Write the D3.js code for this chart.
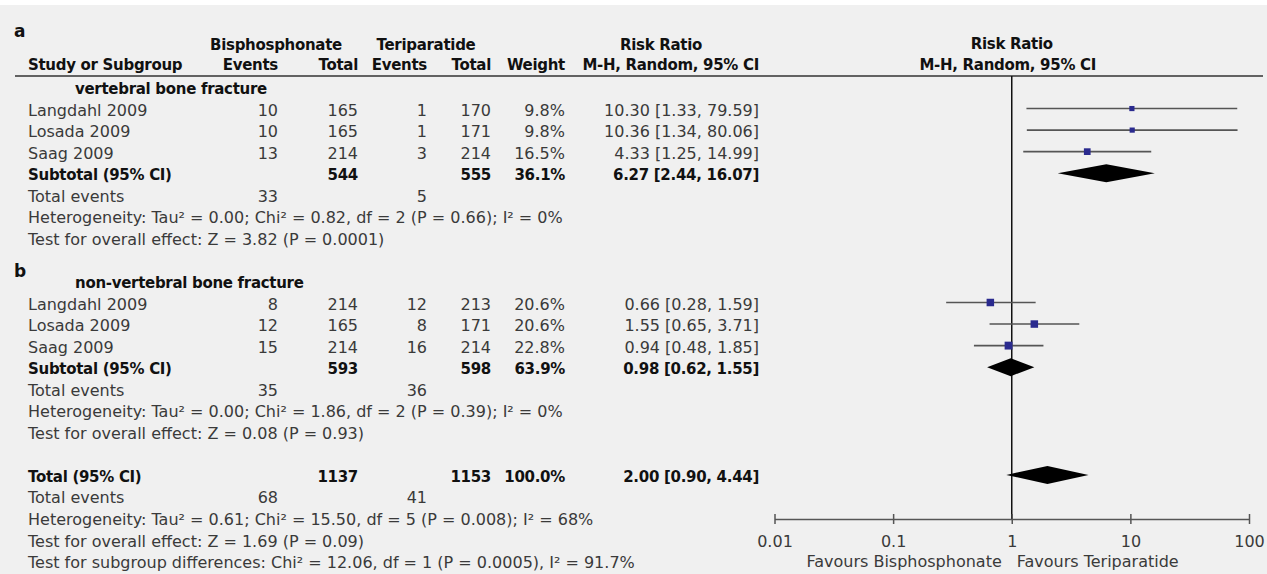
<!DOCTYPE html>
<html><head><meta charset="utf-8">
<script src="https://cdn.jsdelivr.net/npm/d3@7"></script>
<style>body{margin:0;background:#fff}</style>
</head><body><svg id="c" width="1267" height="574"></svg>
<script>
// ---- data ----
const studies = ["Langdahl 2009","Losada 2009","Saag 2009","Langdahl 2009","Losada 2009","Saag 2009"];
const studyGroup = [0,0,0,1,1,1];
const bisEvents = [10,10,13,8,12,15];
const bisTotal = [165,165,214,214,165,214];
const terEvents = [1,1,3,12,8,16];
const terTotal = [170,171,214,213,171,214];
const weights = [9.8,9.8,16.5,20.6,20.6,22.8];
const rr = [10.30,10.36,4.33,0.66,1.55,0.94];
const rrLow = [1.33,1.34,1.25,0.28,0.65,0.48];
const rrHigh = [79.59,80.06,14.99,1.59,3.71,1.85];

const panelLabels = ["a","b"];
const subgroupNames = ["vertebral bone fracture","non-vertebral bone fracture"];
const subBisEvents = [33,35];
const subTerEvents = [5,36];
const subBisTotal = [544,593];
const subTerTotal = [555,598];
const subWeight = [36.1,63.9];
const subRR = [6.27,0.98];
const subLow = [2.44,0.62];
const subHigh = [16.07,1.55];
const subHet = ["Heterogeneity: Tau\u00b2 = 0.00; Chi\u00b2 = 0.82, df = 2 (P = 0.66); I\u00b2 = 0%",
                "Heterogeneity: Tau\u00b2 = 0.00; Chi\u00b2 = 1.86, df = 2 (P = 0.39); I\u00b2 = 0%"];
const subTest = ["Test for overall effect: Z = 3.82 (P = 0.0001)",
                 "Test for overall effect: Z = 0.08 (P = 0.93)"];

const totBisEvents = 68, totTerEvents = 41;
const totBisTotal = 1137, totTerTotal = 1153, totWeight = 100.0;
const totRR = 2.00, totLow = 0.90, totHigh = 4.44;
const totHet = "Heterogeneity: Tau\u00b2 = 0.61; Chi\u00b2 = 15.50, df = 5 (P = 0.008); I\u00b2 = 68%";
const totTest = "Test for overall effect: Z = 1.69 (P = 0.09)";
const subDiff = "Test for subgroup differences: Chi\u00b2 = 12.06, df = 1 (P = 0.0005), I\u00b2 = 91.7%";

const tickValues = [0.01,0.1,1,10,100];
const tickLabels = ["0.01","0.1","1","10","100"];
const favourLeft = "Favours Bisphosphonate";
const favourRight = "Favours Teriparatide";

// ---- layout ----
const W = 1267, H = 574;
const svg = d3.select("#c");
svg.append("rect").attr("x",0).attr("y",5).attr("width",W).attr("height",H-5).attr("fill","#f0f0f0");
const FN = "'DejaVu Sans', sans-serif";
const NS = 16, BS = 15;
const x = d3.scaleLog().domain([0.01,100]).range([774.5,1249]);
const row = d3.scaleLinear().domain([0,22]).range([87,561.1]);
const OFF = 7;
const col = {name:28, be:278, bt:358, te:427, tt:491, w:565, ci:759};
const size = d3.scaleSqrt().domain([0,100]).range([0,16.5]);

function txt(xp, yp, s, o = {}) {
  return svg.append("text").attr("x", xp).attr("y", yp)
    .attr("font-family", FN)
    .attr("font-size", o.size || (o.bold ? BS : NS))
    .attr("font-weight", o.bold ? "bold" : "normal")
    .attr("letter-spacing", o.bold && !o.size ? -0.3 : 0)
    .attr("fill", o.bold ? "#111" : "#3a3a3a")
    .attr("text-anchor", o.anchor || "start")
    .text(s);
}
const ciStr = (m,l,h) => `${m.toFixed(2)} [${l.toFixed(2)}, ${h.toFixed(2)}]`;

// header
txt(14, 37, panelLabels[0], {bold:true, size:17});
txt(276, 50, "Bisphosphonate", {bold:true, anchor:"middle"});
txt(426, 50, "Teriparatide", {bold:true, anchor:"middle"});
txt(661, 50, "Risk Ratio", {bold:true, anchor:"middle"});
txt(x(1), 49, "Risk Ratio", {bold:true, anchor:"middle"});
txt(col.name, 70, "Study or Subgroup", {bold:true});
txt(col.be, 70, "Events", {bold:true, anchor:"end"});
txt(col.bt, 70, "Total", {bold:true, anchor:"end"});
txt(col.te, 70, "Events", {bold:true, anchor:"end"});
txt(col.tt, 70, "Total", {bold:true, anchor:"end"});
txt(col.w, 70, "Weight", {bold:true, anchor:"end"});
txt(col.ci, 70, "M-H, Random, 95% CI", {bold:true, anchor:"end"});
txt(x(1)-4, 70, "M-H, Random, 95% CI", {bold:true, anchor:"middle"});
svg.append("line").attr("x1",15).attr("x2",1263).attr("y1",76).attr("y2",76)
  .attr("stroke","#333").attr("stroke-width",1.5);

// vertical line of no effect
svg.append("line").attr("x1",x(1)).attr("x2",x(1)).attr("y1",76).attr("y2",519)
  .attr("stroke","#111").attr("stroke-width",1.5);

function diamond(m,l,h,yc) {
  svg.append("path")
    .attr("d", `M${x(l)},${yc}L${x(m)},${yc-9}L${x(h)},${yc}L${x(m)},${yc+9}Z`)
    .attr("fill","#000");
}

[0,1].forEach(g => {
  const base = g === 0 ? 0 : 9;
  if (g === 1) txt(14, 277, panelLabels[1], {bold:true, size:17});
  txt(75, row(base)+OFF, subgroupNames[g], {bold:true});
  const idx = studies.map((s,i)=>i).filter(i => studyGroup[i] === g);
  idx.forEach((i,k) => {
    const yc = row(base+1+k), yb = yc + OFF;
    txt(col.name, yb, studies[i]);
    txt(col.be, yb, bisEvents[i], {anchor:"end"});
    txt(col.bt, yb, bisTotal[i], {anchor:"end"});
    txt(col.te, yb, terEvents[i], {anchor:"end"});
    txt(col.tt, yb, terTotal[i], {anchor:"end"});
    txt(col.w, yb, weights[i].toFixed(1)+"%", {anchor:"end"});
    txt(col.ci, yb, ciStr(rr[i], rrLow[i], rrHigh[i]), {anchor:"end"});
    svg.append("line").attr("x1",x(rrLow[i])).attr("x2",x(rrHigh[i]))
      .attr("y1",yc).attr("y2",yc).attr("stroke","#555").attr("stroke-width",1.6);
    const s = size(weights[i]);
    svg.append("rect").attr("x",x(rr[i])-s/2).attr("y",yc-s/2)
      .attr("width",s).attr("height",s).attr("fill","#2a2a8e");
  });
  const ys = row(base+4);
  txt(col.name, ys+OFF, "Subtotal (95% CI)", {bold:true});
  txt(col.bt, ys+OFF, subBisTotal[g], {bold:true, anchor:"end"});
  txt(col.tt, ys+OFF, subTerTotal[g], {bold:true, anchor:"end"});
  txt(col.w, ys+OFF, subWeight[g].toFixed(1)+"%", {bold:true, anchor:"end"});
  txt(col.ci, ys+OFF, ciStr(subRR[g], subLow[g], subHigh[g]), {bold:true, anchor:"end"});
  diamond(subRR[g], subLow[g], subHigh[g], ys);
  txt(col.name, row(base+5)+OFF, "Total events");
  txt(col.be, row(base+5)+OFF, subBisEvents[g], {anchor:"end"});
  txt(col.te, row(base+5)+OFF, subTerEvents[g], {anchor:"end"});
  txt(col.name, row(base+6)+OFF, subHet[g]);
  txt(col.name, row(base+7)+OFF, subTest[g]);
});

// overall
const yt = row(18);
txt(col.name, yt+OFF, "Total (95% CI)", {bold:true});
txt(col.bt, yt+OFF, totBisTotal, {bold:true, anchor:"end"});
txt(col.tt, yt+OFF, totTerTotal, {bold:true, anchor:"end"});
txt(col.w, yt+OFF, totWeight.toFixed(1)+"%", {bold:true, anchor:"end"});
txt(col.ci, yt+OFF, ciStr(totRR, totLow, totHigh), {bold:true, anchor:"end"});
diamond(totRR, totLow, totHigh, yt);
txt(col.name, row(19)+OFF, "Total events");
txt(col.be, row(19)+OFF, totBisEvents, {anchor:"end"});
txt(col.te, row(19)+OFF, totTerEvents, {anchor:"end"});
txt(col.name, row(20)+OFF, totHet);
txt(col.name, row(21)+OFF, totTest);
txt(col.name, row(22)+OFF, subDiff);

// axis
const axis = d3.axisBottom(x).tickValues(tickValues)
  .tickFormat((d,i) => tickLabels[i]).tickSizeOuter(0);
const ag = svg.append("g").attr("transform","translate(0,519)").call(axis);
ag.select(".domain").attr("stroke","#555").attr("stroke-width",1.5);
ag.selectAll(".tick line").attr("y1",-5).attr("y2",5).attr("stroke","#555").attr("stroke-width",1.5);
ag.selectAll(".tick text").attr("y",28).attr("dy",0)
  .attr("font-family",FN).attr("font-size",NS).attr("fill","#3a3a3a");
txt(x(1)-10, 567, favourLeft, {anchor:"end"});
txt(x(1)+5, 567, favourRight);
</script></body></html>
